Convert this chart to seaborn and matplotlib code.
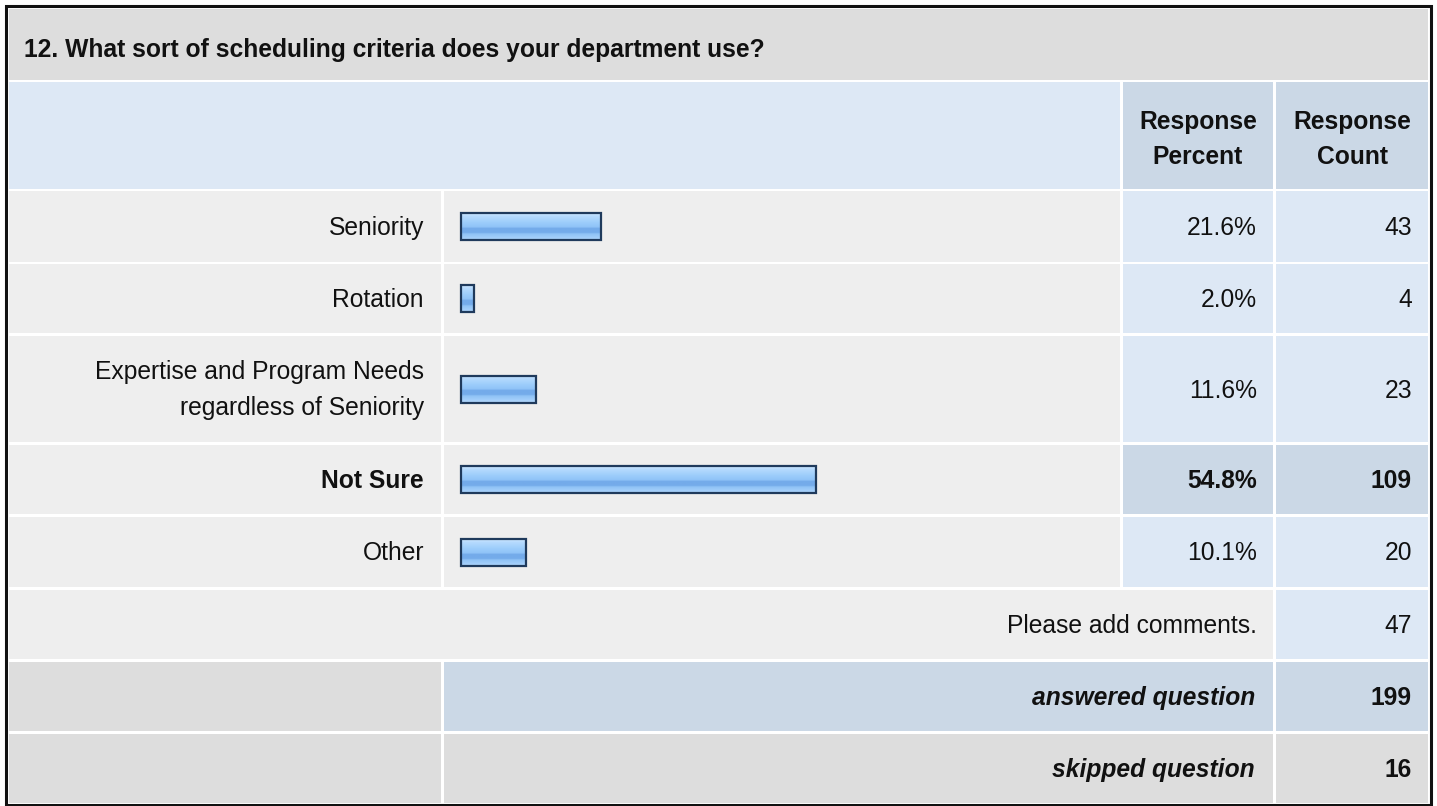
import matplotlib.pyplot as plt
from matplotlib.patches import Rectangle
from matplotlib.colors import LinearSegmentedColormap
import numpy as np
import pandas as pd
import seaborn as sns

# survey data
question = "12. What sort of scheduling criteria does your department use?"
answer_options = ["Seniority", "Rotation", "Expertise and Program Needs\nregardless of Seniority", "Not Sure", "Other"]
response_percent = [21.6, 2.0, 11.6, 54.8, 10.1]
response_count = [43, 4, 23, 109, 20]
header_percent = "Response\nPercent"
header_count = "Response\nCount"
comment_label = "Please add comments."
comment_count = 47
answered_label = "answered question"
answered_count = 199
skipped_label = "skipped question"
skipped_count = 16

# layout (pixels)
W, H = 1437, 806
col_label = (9, 441)
col_bar = (444, 1120)
col_pct = (1123, 1273)
col_cnt = (1276, 1428)
title_row = (9, 80)
head_row = (82, 189)
answer_rows = [(191, 262), (264, 333), (336, 442), (445, 514), (517, 587)]
comment_row = (590, 659)
answered_row = (662, 731)
skipped_row = (734, 803)
LINE_GAP = 36
BAR_X0 = 461
PX_PER_PCT = 6.48
BAR_H = 27

GRAY_DARK = "#dddddd"
GRAY_LIGHT = "#eeeeee"
BLUE_LIGHT = "#dde8f5"
BLUE_MID = "#cbd8e6"
TEXT = "#111111"
BAR_EDGE = "#1f3a5c"
bar_cmap = LinearSegmentedColormap.from_list("bar", [
    (0.0, "#d2e9ff"), (0.12, "#b5dafe"), (0.35, "#9dcdfb"), (0.52, "#8fc3f7"),
    (0.56, "#74abea"), (0.72, "#74abea"), (0.77, "#8fc2f5"), (0.9, "#a0cdfa"), (1.0, "#b2d7fc")])

sns.set_theme(style="white")
plt.rcParams['font.family'] = ['Liberation Sans', 'DejaVu Sans']
FS = 17.7

fig = plt.figure(figsize=(W / 100, H / 100), dpi=100, facecolor="white")
ax = fig.add_axes([0, 0, 1, 1])
ax.set_xlim(0, W)
ax.set_ylim(H, 0)
ax.axis("off")


def cell(xs, ys, color):
    ax.add_patch(Rectangle((xs[0], ys[0]), xs[1] - xs[0], ys[1] - ys[0],
                           facecolor=color, edgecolor="none"))


def put_text(x, ys, text, ha="right", dy=8.5, **kw):
    lines = text.split("\n")
    yc = (ys[0] + ys[1]) / 2
    n = len(lines)
    for i, line in enumerate(lines):
        y = yc + (i - (n - 1) / 2) * LINE_GAP + dy
        ax.text(x, y, line, ha=ha, va="baseline", fontsize=FS, color=TEXT, **kw)


# outer frame
ax.add_patch(Rectangle((5.5, 6), 1425, 799, facecolor="none", edgecolor="#111111", linewidth=2.2))

# title and header
cell((col_label[0], col_cnt[1]), title_row, GRAY_DARK)
put_text(24, title_row, question, ha="left", dy=12, fontweight="bold")
cell((col_label[0], col_bar[1]), head_row, BLUE_LIGHT)
cell(col_pct, head_row, BLUE_MID)
cell(col_cnt, head_row, BLUE_MID)
put_text(sum(col_pct) / 2, head_row, header_percent, ha="center", dy=11, fontweight="bold")
put_text(sum(col_cnt) / 2, head_row, header_count, ha="center", dy=11, fontweight="bold")

top = int(np.argmax(response_percent))
for i, (opt, pct, cnt) in enumerate(zip(answer_options, response_percent, response_count)):
    ys = answer_rows[i]
    hl = i == top
    weight = "bold" if hl else "normal"
    cell(col_label, ys, GRAY_LIGHT)
    cell(col_bar, ys, GRAY_LIGHT)
    cell(col_pct, ys, BLUE_MID if hl else BLUE_LIGHT)
    cell(col_cnt, ys, BLUE_MID if hl else BLUE_LIGHT)
    put_text(424, ys, opt, fontweight=weight)
    put_text(1257, ys, f"{pct:.1f}%", fontweight=weight)
    put_text(1412, ys, str(cnt), fontweight=weight)

    # bar
    yc = (ys[0] + ys[1]) / 2
    bax = fig.add_axes([BAR_X0 / W, 1 - (yc + BAR_H / 2) / H, 100 * PX_PER_PCT / W, BAR_H / H])
    df = pd.DataFrame({"option": [opt], "percent": [pct]})
    sns.barplot(data=df, x="percent", y="option", orient="h", width=1, ax=bax,
                color=BAR_EDGE, edgecolor=BAR_EDGE, linewidth=1.6, saturation=1)
    for p in bax.patches:
        p.set_facecolor("none")
        p.set_clip_on(False)
        p.set_zorder(3)
        grad = np.linspace(0, 1, 256).reshape(-1, 1)
        bax.imshow(grad, cmap=bar_cmap, aspect="auto", zorder=2,
                   extent=[p.get_x(), p.get_x() + p.get_width(), p.get_y() + p.get_height(), p.get_y()])
    bax.set_xlim(0, 100)
    bax.set_ylim(0.5, -0.5)
    bax.axis("off")

# comments / answered / skipped
cell((col_label[0], col_pct[1]), comment_row, GRAY_LIGHT)
cell(col_cnt, comment_row, BLUE_LIGHT)
put_text(1257, comment_row, comment_label)
put_text(1412, comment_row, str(comment_count))

cell(col_label, answered_row, GRAY_DARK)
cell((col_bar[0], col_pct[1]), answered_row, BLUE_MID)
cell(col_cnt, answered_row, BLUE_MID)
put_text(1255, answered_row, answered_label, fontweight="bold", fontstyle="italic")
put_text(1412, answered_row, str(answered_count), fontweight="bold")

cell(col_label, skipped_row, GRAY_DARK)
cell((col_bar[0], col_pct[1]), skipped_row, GRAY_DARK)
cell(col_cnt, skipped_row, GRAY_DARK)
put_text(1255, skipped_row, skipped_label, fontweight="bold", fontstyle="italic")
put_text(1412, skipped_row, str(skipped_count), fontweight="bold")

fig.savefig("out.png", dpi=100, facecolor="white")
